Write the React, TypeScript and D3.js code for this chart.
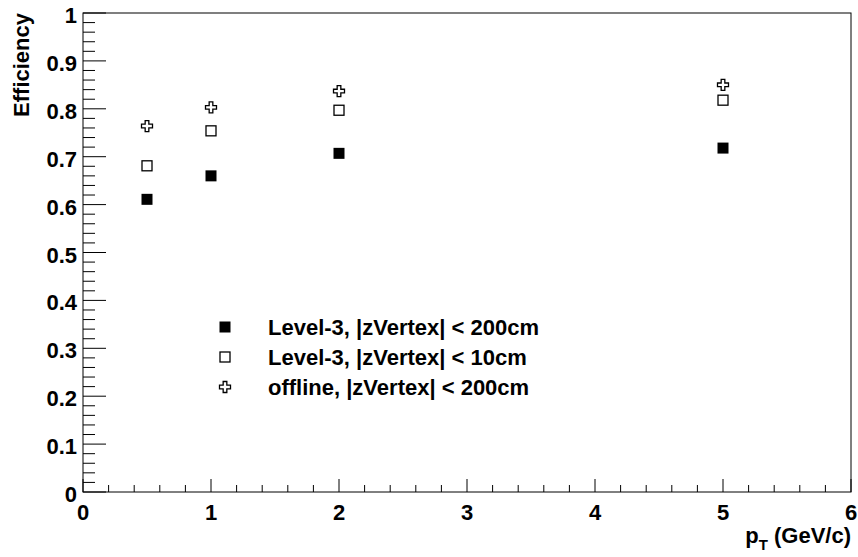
import React from 'react';
import * as d3 from 'd3';

// values
const ptValues = [0.5, 1, 2, 5];
const effL3Wide = [0.611, 0.660, 0.707, 0.718];
const effL3Narrow = [0.681, 0.754, 0.797, 0.818];
const effOffline = [0.764, 0.803, 0.837, 0.850];

const legendLabels = [
  'Level-3, |zVertex| < 200cm',
  'Level-3, |zVertex| < 10cm',
  'offline, |zVertex| < 200cm',
];
const xTickLabels = ['0', '1', '2', '3', '4', '5', '6'];
const yTickLabels = ['0', '0.1', '0.2', '0.3', '0.4', '0.5', '0.6', '0.7', '0.8', '0.9', '1'];

const width = 858;
const height = 557;
const marginL = 83;
const marginR = 7;
const marginT = 13;
const marginB = 65;

const font = '"Liberation Sans", Arial, Helvetica, sans-serif';

const crossPath = (s: number) => {
  const a = s / 2;
  const b = s / 6;
  return `M${-b},${-a}H${b}V${-b}H${a}V${b}H${b}V${a}H${-b}V${b}H${-a}V${-b}H${-b}Z`;
};

const Marker: React.FC<{ kind: number; x: number; y: number }> = ({ kind, x, y }) => {
  const s = 11;
  if (kind === 0) return <rect x={x - s / 2} y={y - s / 2} width={s} height={s} fill="#000" />;
  if (kind === 1)
    return <rect x={x - s / 2 + 0.5} y={y - s / 2 + 0.5} width={s - 1} height={s - 1} fill="#fff" stroke="#000" strokeWidth={1.3} />;
  return <path d={crossPath(s)} transform={`translate(${x},${y})`} fill="#fff" stroke="#000" strokeWidth={1.3} />;
};

export default function App() {
  const xScale = d3.scaleLinear().domain([0, 6]).range([marginL, width - marginR]);
  const yScale = d3.scaleLinear().domain([0, 1]).range([height - marginB, marginT]);

  const series = [effL3Wide, effL3Narrow, effOffline];

  const xMinor = d3.range(0, 30.5).map((i) => i * 0.2);
  const yMinor = d3.range(0, 50.5).map((i) => i * 0.02);

  const x0 = xScale(0);
  const x1 = xScale(6);
  const y0 = yScale(0);
  const y1 = yScale(1);

  return (
    <svg width={width} height={height} style={{ position: 'absolute', left: 0, top: 0, background: '#fff' }} fontFamily={font} fontWeight="bold">
      <rect x={0} y={0} width={width} height={height} fill="#fff" />
      {/* frame */}
      <rect x={x0} y={y1} width={x1 - x0} height={y0 - y1} fill="none" stroke="#000" strokeWidth={1} />

      {/* x axis ticks */}
      {xMinor.map((v, i) => (
        <line key={'xt' + i} x1={xScale(v)} x2={xScale(v)} y1={y0} y2={y0 - (i % 5 === 0 ? 13 : 7)} stroke="#000" />
      ))}
      {xTickLabels.map((t, i) => (
        <text key={'xl' + i} x={xScale(+t)} y={520} textAnchor="middle" fontSize={22}>{t}</text>
      ))}

      {/* y axis ticks */}
      {yMinor.map((v, i) => (
        <line key={'yt' + i} x1={x0} x2={x0 + (i % 5 === 0 ? 23 : 12)} y1={yScale(v)} y2={yScale(v)} stroke="#000" />
      ))}
      {yTickLabels.map((t, i) => (
        <text key={'yl' + i} x={77} y={yScale(+t) + 10} textAnchor="end" fontSize={22}>{t}</text>
      ))}

      {/* axis titles */}
      <text transform={`translate(29,${y1}) rotate(-90)`} textAnchor="end" fontSize={22}>Efficiency</text>
      <text x={x1} y={543} textAnchor="end" fontSize={22}>
        p<tspan fontSize={15} dy={7}>T</tspan><tspan dy={-7}> (GeV/c)</tspan>
      </text>

      {/* data points */}
      {series.map((vals, k) =>
        vals.map((v, i) => <Marker key={`m${k}-${i}`} kind={k} x={xScale(ptValues[i])} y={yScale(v)} />)
      )}

      {/* legend */}
      {legendLabels.map((lab, k) => (
        <g key={'lg' + k}>
          <Marker kind={k} x={225} y={327 + k * 30} />
          <text x={268} y={335 + k * 30} fontSize={22}>{lab}</text>
        </g>
      ))}
    </svg>
  );
}
